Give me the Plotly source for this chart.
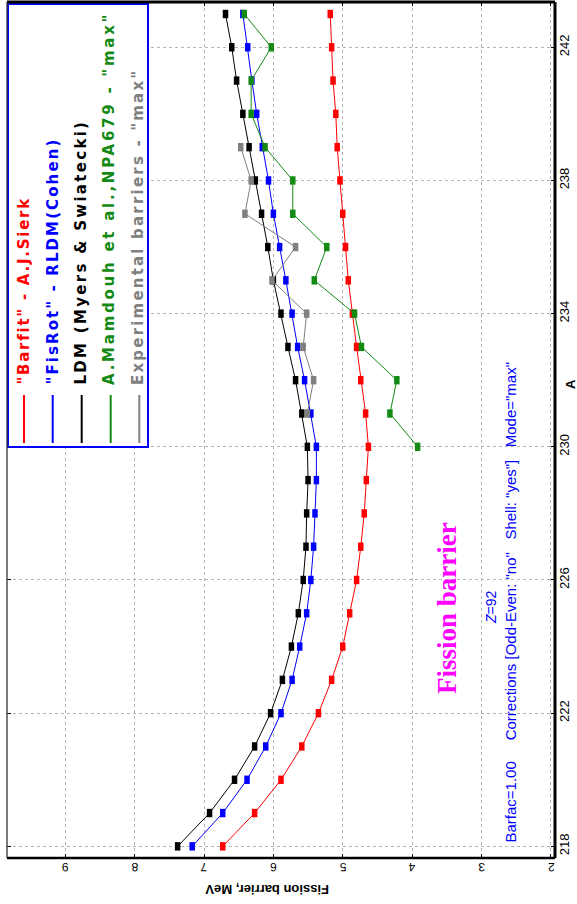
import plotly.graph_objects as go

# Mass number A and fission barrier heights (MeV), Z = 92
mass_number = list(range(218, 244))
barfit_sierk = [6.73, 6.27, 5.89, 5.59, 5.35, 5.16, 5.00, 4.90, 4.80, 4.74, 4.69, 4.66, 4.63,
                4.67, 4.74, 4.80, 4.86, 4.92, 4.96, 5.00, 5.04, 5.08, 5.10, 5.14, 5.16, 5.18]
fisrot_cohen = [7.17, 6.73, 6.38, 6.11, 5.89, 5.73, 5.62, 5.52, 5.46, 5.42, 5.40, 5.38, 5.38,
                5.46, 5.55, 5.65, 5.73, 5.82, 5.91, 6.00, 6.07, 6.16, 6.24, 6.31, 6.37, 6.44]
ldm_myers = [7.38, 6.92, 6.56, 6.27, 6.04, 5.87, 5.74, 5.64, 5.57, 5.53, 5.52, 5.50, 5.51,
             5.59, 5.68, 5.79, 5.89, 6.00, 6.08, 6.17, 6.26, 6.35, 6.44, 6.53, 6.60, 6.69]
mamdouh_A = list(range(230, 244))
mamdouh_max = [3.92, 4.32, 4.22, 4.73, 4.83, 5.41, 5.23, 5.72, 5.72, 6.12, 6.32, 6.32, 6.03, 6.42]
experimental_A = list(range(231, 240))
experimental_max = [5.51, 5.42, 5.57, 5.52, 6.02, 5.68, 6.41, 6.32, 6.47]

barrier_ticks = [9, 8, 7, 6, 5, 4, 3, 2]
a_ticks = [218, 222, 226, 230, 234, 238, 242]

series = [
    ('"Barfit" - A.J.Sierk', barfit_sierk, mass_number, "#ff0000"),
    ('"FisRot" - RLDM(Cohen)', fisrot_cohen, mass_number, "#0000ff"),
    ("LDM (Myers & Swiatecki)", ldm_myers, mass_number, "#000000"),
    ('A.Mamdouh et al.,NPA679 - "max"', mamdouh_max, mamdouh_A, "#138a13"),
    ('Experimental barriers - "max"', experimental_max, experimental_A, "#808080"),
]

W, H = 577, 904
L, R, T, B = 7, 22, 2, 46
PW, PH = W - L - R, H - T - B


def px(x):
    return (x - L) / PW


def py(y):
    return (H - B - y) / PH


fig = go.Figure()
for name, vals, a, col in series:
    fig.add_trace(go.Scatter(
        x=vals, y=a, name=name, mode="lines+markers",
        line=dict(color=col, width=1),
        marker=dict(symbol="line-ns", size=6, color=col, line=dict(color=col, width=5.5)),
        showlegend=False,
    ))

shapes = []
annotations = []

# Legend box
shapes.append(dict(type="rect", xref="paper", yref="paper",
                   x0=px(8), x1=px(148), y0=py(447), y1=py(4),
                   line=dict(color="#0000ff", width=2), fillcolor="white", layer="above"))
leg_x_line = [24, 52.7, 81.7, 110.7, 139.3]
leg_x_text = [23, 52, 80, 108.5, 138]
leg_spacing = [1.75, 2.1, 2.3, 2.75, 2.2]
for (name, _, _, col), xl, xt, sp in zip(series, leg_x_line, leg_x_text, leg_spacing):
    shapes.append(dict(type="line", xref="paper", yref="paper",
                       x0=px(xl), x1=px(xl), y0=py(443), y1=py(395),
                       line=dict(color=col, width=2), layer="above"))
    annotations.append(dict(
        xref="paper", yref="paper", x=px(xt), y=py(387), xanchor="center", yanchor="bottom",
        text='<span style="letter-spacing:%.2fpx">%s</span>' % (sp, name),
        textangle=-90, showarrow=False,
        font=dict(family="DejaVu Sans", size=15, color=col, weight="bold"),
    ))

# Frame
shapes += [
    dict(type="line", xref="paper", yref="paper", x0=0, x1=1, y0=1, y1=1,
         line=dict(color="black", width=3), layer="above"),
    dict(type="line", xref="paper", yref="paper", x0=1, x1=1, y0=0, y1=1,
         line=dict(color="black", width=3), layer="above"),
    dict(type="line", xref="paper", yref="paper", x0=0, x1=1, y0=0, y1=0,
         line=dict(color="black", width=2.5), layer="above"),
    dict(type="line", xref="paper", yref="paper", x0=0, x1=0, y0=0, y1=1,
         line=dict(color="#333333", width=1.3), layer="above"),
]

# Barrier tick labels, printed upside down under the bottom edge
for v in barrier_ticks:
    annotations.append(dict(
        xref="x", yref="paper", x=v, y=py(867), xanchor="center", yanchor="middle",
        text=str(v), textangle=179.9, showarrow=False,
        font=dict(family="Liberation Sans", size=12, color="black"),
    ))

NB = "\u00a0"
note = ("Barfac=1.00" + NB * 5 + 'Corrections [Odd-Even: "no"' + NB * 3 + 'Shell: "yes"]'
        + NB * 3 + 'Mode="max"')

# Axis titles and notes
annotations += [
    dict(xref="paper", yref="paper", x=px(267), y=py(890), xanchor="center", yanchor="middle",
         text="Fission barrier, MeV", textangle=179.9, showarrow=False,
         font=dict(family="Liberation Sans", size=13, color="black", weight="bold")),
    dict(xref="paper", yref="paper", x=px(570), y=py(384), xanchor="center", yanchor="middle",
         text="A", textangle=-90, showarrow=False,
         font=dict(family="Liberation Sans", size=13, color="black", weight="bold")),
    dict(xref="paper", yref="paper", x=px(447), y=py(608), xanchor="center", yanchor="middle",
         text="Fission barrier", textangle=-90, showarrow=False,
         font=dict(family="Liberation Serif", size=27, color="#ff00ff", weight="bold")),
    dict(xref="paper", yref="paper", x=px(491), y=py(607), xanchor="center", yanchor="middle",
         text="<i>Z</i>=92", textangle=-90, showarrow=False,
         font=dict(family="Liberation Sans", size=14, color="#0000ff")),
    dict(xref="paper", yref="paper", x=px(510), y=py(845), xanchor="center", yanchor="bottom",
         text=note, textangle=-90, showarrow=False,
         font=dict(family="Liberation Sans", size=15, color="#0000ff")),
]

fig.update_layout(
    width=W, height=H,
    margin=dict(l=L, r=R, t=T, b=B, pad=0),
    paper_bgcolor="white", plot_bgcolor="white",
    shapes=shapes, annotations=annotations,
    xaxis=dict(
        range=[9.84, 1.94], tickvals=barrier_ticks, showticklabels=False,
        ticks="inside", ticklen=4, tickcolor="black", mirror="ticks",
        showline=False, zeroline=False,
        showgrid=True, gridcolor="#b4b4b4", griddash="3px,3px", gridwidth=1,
    ),
    yaxis=dict(
        range=[217.65, 243.36], tickvals=a_ticks, side="right",
        tickangle=-90, ticks="inside", ticklen=4, tickcolor="black", mirror="ticks",
        showline=False, zeroline=False,
        showgrid=True, gridcolor="#b4b4b4", griddash="3px,3px", gridwidth=1,
        tickfont=dict(family="Liberation Sans", size=13, color="black"),
    ),
)

fig.write_html("out.html")
